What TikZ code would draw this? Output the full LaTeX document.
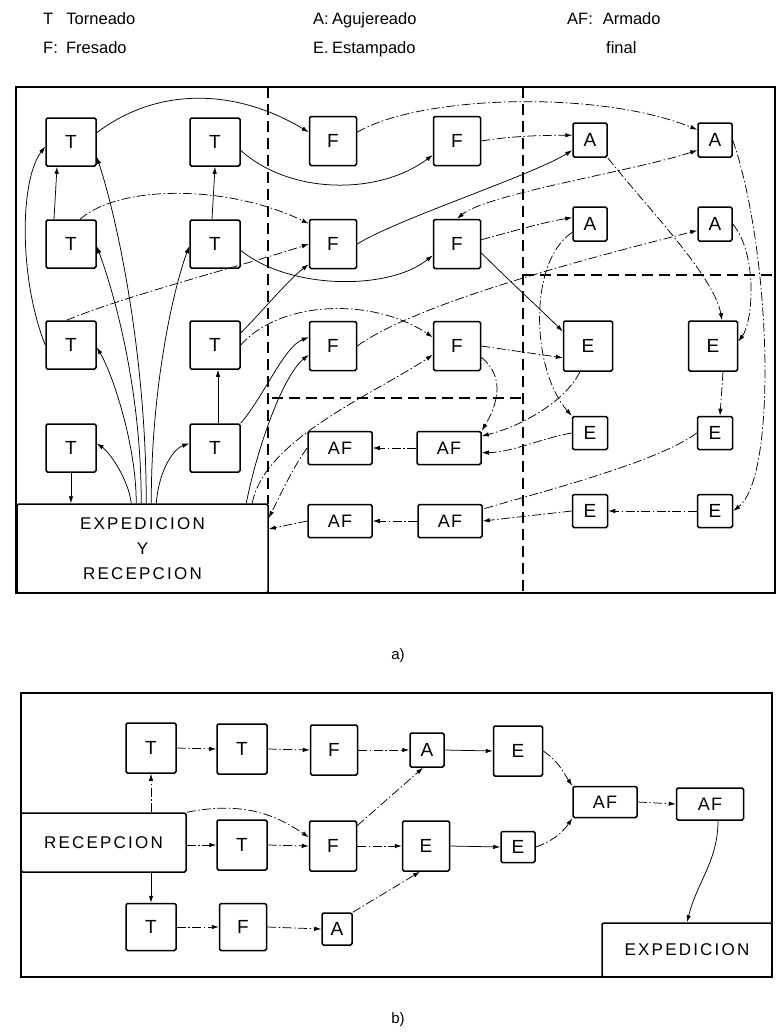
\documentclass[tikz,border=0pt]{standalone}
\usepackage{fontspec}
\setmainfont{Liberation Sans}
\usetikzlibrary{arrows.meta,calc}
\begin{document}
\begin{tikzpicture}[x=1pt,y=-1pt,
  >={Latex[length=7pt,width=4.5pt]},
  box/.style={draw,line width=1.5pt,rounded corners=1.5pt,inner sep=0pt,font=\fontsize{19}{22}\selectfont},
  Tbox/.style={box,minimum width=50pt,minimum height=48pt},
  Fbox/.style={box,minimum width=47pt,minimum height=49pt},
  Abox/.style={box,minimum width=34pt,minimum height=34pt},
  Ebig/.style={box,minimum width=49pt,minimum height=50pt},
  Esm/.style={box,minimum width=35pt,minimum height=33pt},
  AFbox/.style={box,minimum width=64pt,minimum height=33pt,font=\fontsize{18}{20}\selectfont\addfontfeature{LetterSpace=8}},
  bigtxt/.style={font=\fontsize{17}{25}\selectfont\addfontfeature{LetterSpace=13}},
  frame/.style={line width=1.6pt},
  div/.style={line width=1.2pt,dash pattern=on 11pt off 6pt},
  con/.style={line width=0.75pt,->},
  plain/.style={line width=0.75pt},
  dd/.style={dash pattern=on 9pt off 2.5pt on 1.5pt off 2.5pt},
  legend/.style={anchor=base west,inner sep=0pt,font=\fontsize{16.5}{18}\selectfont},
  captxt/.style={inner sep=0pt,font=\fontsize{15}{18}\selectfont},
]
\useasboundingbox (0,0) rectangle (777,1034);

% ---------- legend ----------
\node[legend] (lT) at (43,24) {T\hspace{0.8em}Torneado};
\node[legend] (lF) at (43,53) {F:\hspace{0.5em}Fresado};
\node[legend] (lA) at (313,24) {A:\hspace{0.2em}Agujereado};
\node[legend] (lE) at (313,53) {E.\hspace{0.2em}Estampado};
\node[legend] (lAF) at (567,24) {AF:\hspace{0.6em}Armado};
\node[legend] (lfin) at (606,53) {final};

% ---------- a) frame and dividers ----------
\draw[frame] (16,87) rectangle (775,593);
\draw[div] (268,87) -- (268,504);
\draw[div] (523,87) -- (523,593);
\draw[div] (523,275) -- (775,275);
\draw[div] (272,398) -- (523,398);

% ---------- a) nodes ----------
\node[Tbox] (T11) at (71,142) {T};
\node[Tbox] (T12) at (215,142) {T};
\node[Tbox] (T21) at (71,244) {T};
\node[Tbox] (T22) at (215,244) {T};
\node[Tbox] (T31) at (71,345) {T};
\node[Tbox] (T32) at (215,345) {T};
\node[Tbox] (T41) at (71,448) {T};
\node[Tbox] (T42) at (215,448) {T};
\node[Fbox] (F11) at (333,141) {F};
\node[Fbox] (F12) at (457,141) {F};
\node[Fbox] (F21) at (333,244) {F};
\node[Fbox] (F22) at (457,244) {F};
\node[Fbox] (F31) at (333,346) {F};
\node[Fbox] (F32) at (457,346) {F};
\node[Abox] (A11) at (590,140) {A};
\node[Abox] (A12) at (715,140) {A};
\node[Abox] (A21) at (590,224) {A};
\node[Abox] (A22) at (715,224) {A};
\node[Ebig] (E11) at (588,346) {E};
\node[Ebig] (E12) at (713,346) {E};
\node[Esm] (E21) at (590,433) {E};
\node[Esm] (E22) at (715,433) {E};
\node[Esm] (E31) at (590,511) {E};
\node[Esm] (E32) at (715,511) {E};
\node[AFbox] (AF11) at (340,448) {AF};
\node[AFbox] (AF12) at (449,448) {AF};
\node[AFbox] (AF21) at (340,521) {AF};
\node[AFbox] (AF22) at (450,521) {AF};
\node[box,bigtxt,minimum width=251pt,minimum height=89pt,align=center] (EXP) at (142.5,548.5)
      {EXPEDICION\\Y\\RECEPCION};

% ---------- a) connectors: T column ----------
\draw[con] (T11.20) .. controls +(64,-48) and +(-70,-42) .. (F11.160);
\draw[con] (T12.-18) .. controls +(50,45) and +(-53,40) .. (F12.-150);
\draw[con,dd] (T21.70) .. controls +(40,-35) and +(-80,-39) .. (F21.140);
\draw[con] (T22.-14) .. controls +(50,40) and +(-43,35) .. (F22.-155);
\draw[con,dd] (T31.100) .. controls +(60,-25) and +(-60,20) .. (F21.west);
\draw[con] (T32.25) .. controls +(20,-20) and +(-20,15) .. (F21.-140);
\draw[con,dd] (T32.east) .. controls +(40,-45) and +(-60,-40) .. (F32.160);
\draw[con] (T42.north east) .. controls +(25,-30) and +(-25,10) .. (F31.160);
\draw[con] ($(EXP.north west)+(230,0)$) .. controls +(12,-60) and +(-25,20) .. (F31.-160);
\draw[con,dd] ($(EXP.north west)+(236,0)$) .. controls +(12,-64) and +(-60,40) .. (F32.-160);

\draw[con] ($(EXP.north west)+(115,0)$) .. controls +(-3,-25) and +(12,8) .. (T41.10);
\draw[con] ($(EXP.north west)+(120,0)$) .. controls +(0,-60) and +(15,25) .. (T31.-5);
\draw[con] ($(EXP.north west)+(125,0)$) .. controls +(0,-120) and +(15,40) .. (T21.-5);
\draw[con] ($(EXP.north west)+(130,0)$) .. controls +(0,-150) and +(20,60) .. (T11.-30);
\draw[con] ($(EXP.north west)+(135,0)$) .. controls +(0,-120) and +(-15,40) .. (T22.-175);
\draw[con] ($(EXP.north west)+(140,0)$) .. controls +(3,-35) and +(-15,5) .. (T42.170);

\draw[con] (T41.south) -- (T41.south |- EXP.north);
\draw[con] ([xshift=-17pt]T21.north) -- ([xshift=-14pt]T11.south);
\draw[con] (T31.west) .. controls +(-26,-65) and +(-26,34) .. (T11.190);
\draw[con] ([xshift=-3pt]T22.north) -- (T12.south);
\draw[con] ([xshift=3pt]T42.north) -- ([xshift=3pt]T32.south);

% ---------- a) connectors: F / A / E ----------
\draw[con,dd] (F11.20) .. controls +(63,-37) and +(-98,-40) .. (A12.150);
\draw[con,dd] (F12.east) .. controls +(30,-5) and +(-30,0) .. (A11.165);
\draw[con] (F21.east) .. controls +(40,-25) and +(-40,25) .. (A11.210);
\draw[plain,dd,<->] (A12.210) .. controls +(-60,20) and +(30,-25) .. (F22.north);
\draw[con,dd] (F22.10) .. controls +(30,-8) and +(-30,5) .. (A21.160);
\draw[con,dd] (F31.east) .. controls +(63,-46) and +(-78,20) .. (A22.200);
\draw[con] (F22.-20) .. controls +(30,30) and +(-20,-20) .. (E11.150);
\draw[con,dd] (F32.east) -- (E11.-155);
\draw[con,dd] (A11.south east) .. controls +(35,45) and +(-8,-45) .. ([xshift=9pt]E12.north);
\draw[con,dd] (A12.east) .. controls +(38,110) and +(45,-35) .. (E32.east);
\draw[con,dd] (A22.east) .. controls +(25,30) and +(15,-20) .. (E12.10);
\draw[con,dd] (A21.205) .. controls +(-45,30) and +(-40,-45) .. (E21.north west);
\draw[con,dd] ([xshift=-8pt]E11.south) .. controls +(-15,30) and +(40,-10) .. (AF12.20);
\draw[con,dd] (E21.west) .. controls +(-30,5) and +(30,0) .. (AF12.-8);
\draw[con,dd] (F32.-25) .. controls +(25,20) and +(15,-25) .. (AF12.north east);
\draw[con,dd] (AF12.west) -- (AF11.east);
\draw[con,dd] (AF22.west) -- (AF21.east);
\draw[con,dd] (AF21.west) -- ($(EXP.east)+(0,-19.5)$);
\draw[con,dd] (AF11.west) .. controls +(-12,15) and +(10,-20) .. ($(EXP.east)+(0,-30.5)$);
\draw[con,dd] (E31.west) -- (AF22.east);
\draw[plain,dd] (E22.west) .. controls +(-40,30) and +(50,-15) .. (AF22.20);
\draw[con,dd] (E32.west) -- (E31.east);
\draw[con,dd] ([xshift=10pt]E12.south) -- ([xshift=5pt]E22.north);

\node[captxt] (capa) at (398,656) {a)};

% ---------- b) ----------
\draw[frame] (21,693) rectangle (772,977);
\node[box,bigtxt,minimum width=165pt,minimum height=59pt] (REC) at (103.5,842.5) {RECEPCION};
\node[box,bigtxt,minimum width=170pt,minimum height=54pt] (bEXP) at (687,950) {EXPEDICION};
\node[Tbox,minimum height=50pt] (bT1) at (151,748) {T};
\node[Tbox,minimum height=50pt] (bT2) at (242,749) {T};
\node[Fbox,minimum height=50pt] (bF1) at (334,750) {F};
\node[Abox] (bA1) at (427,750) {A};
\node[Ebig] (bE1) at (518,751) {E};
\node[AFbox,minimum height=31pt] (bAF1) at (605,802) {AF};
\node[AFbox,minimum width=67pt,minimum height=32pt] (bAF2) at (710,804) {AF};
\node[Tbox,minimum height=50pt] (bT3) at (242,845) {T};
\node[Fbox,minimum height=50pt] (bF2) at (333,846) {F};
\node[Ebig,minimum width=47pt] (bE2) at (426,846) {E};
\node[Esm,minimum width=34pt,minimum height=31pt] (bE3) at (518,847) {E};
\node[Tbox,minimum height=47pt] (bT4) at (151,927) {T};
\node[Fbox,minimum height=47pt] (bF3) at (243,927) {F};
\node[Abox,minimum width=30pt,minimum height=32pt] (bA2) at (337,929) {A};

\draw[con,dd] (bT1.south |- REC.north) -- (bT1.south);
\draw[con] (bT4.north |- REC.south) -- (bT4.north);
\draw[con,dd] (bT1.east) -- (bT2.west);
\draw[con,dd] (bT2.east) -- (bF1.west);
\draw[con,dd] (bF1.east) -- (bA1.west);
\draw[con] (bA1.east) -- (bE1.west);
\draw[con,dd] (bE1.east) .. controls +(15,10) and +(-10,-15) .. (bAF1.north west);
\draw[con,dd] (bAF1.east) -- (bAF2.west);
\draw[con] ([xshift=8pt]bAF2.south) .. controls +(0,40) and +(10,-40) .. (bEXP.north);
\draw[con,dd] (REC.east |- bT3.west) -- (bT3.west);
\draw[con,dd] (bT3.east) -- (bF2.west);
\draw[con,dd] (REC.north east) .. controls +(60,-12) and +(-30,-20) .. (bF2.160);
\draw[con,dd] (bF2.east) -- (bE2.west);
\draw[con,dd] (bF2.40) -- ([xshift=-4pt]bA1.south);
\draw[con] (bE2.east) -- (bE3.west);
\draw[con,dd] (bE3.east) .. controls +(15,-5) and +(-10,15) .. (bAF1.south west);
\draw[con,dd] (bT4.east) -- (bF3.west);
\draw[con,dd] (bF3.east) -- (bA2.west);
\draw[con,dd] (bA2.north east) -- ([xshift=-6pt]bE2.south);

\node[captxt] (capb) at (398,1020) {b)};
\end{tikzpicture}
\end{document}
